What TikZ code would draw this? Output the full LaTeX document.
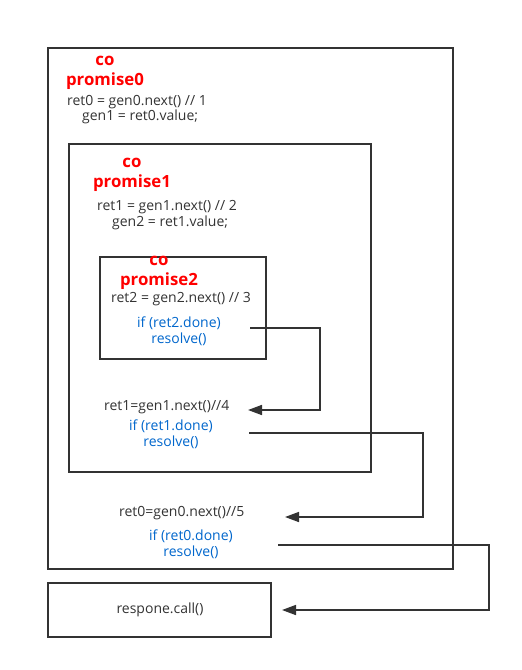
\documentclass[tikz,border=0pt]{standalone}
\usepackage{fontspec}
\setmainfont{Open Sans}
\usetikzlibrary{arrows.meta}
\definecolor{ln}{HTML}{333333}
\definecolor{bl}{HTML}{0066CC}
\tikzset{
  box/.style={draw=ln, line width=1.6pt},
  code/.style={inner sep=0pt, text=ln, font=\fontsize{14}{16}\selectfont},
  blue/.style={inner sep=0pt, text=bl, font=\fontsize{14}{16.5}\selectfont, align=center},
  title/.style={inner sep=0pt, text=red, font=\bfseries\fontsize{16.8}{19.5}\selectfont, align=center},
  conn/.style={draw=ln, line width=1.6pt, -{Triangle[length=14pt,width=10pt]}},
}
\begin{document}
\begin{tikzpicture}[x=1pt,y=-1pt]
\useasboundingbox (0,0) rectangle (522,670);
% boxes
\draw[box] (48,48) rectangle (453,569);
\draw[box] (69,144) rectangle (371,472);
\draw[box] (100,257) rectangle (266,359);
\draw[box] (48,583) rectangle (271,637);
% outer box texts
\node[title] (t0) at (105,73) {co\\promise0};
\node[code, anchor=west] (a0) at (67,102) {ret0 = gen0.next() // 1};
\node[code, anchor=west] (b0) at (82,117) {gen1 = ret0.value;};
% box1 texts
\node[title] (t1) at (132,175) {co\\promise1};
\node[code, anchor=west] (a1) at (97,207) {ret1 = gen1.next() // 2};
\node[code, anchor=west] (b1) at (112,223) {gen2 = ret1.value;};
% box2 texts
\node[title] (t2) at (159,273) {co\\promise2};
\node[code, anchor=west] (a2) at (111,299) {ret2 = gen2.next() // 3};
\node[blue] (if2) at (179,331) {if (ret2.done)\\resolve()};
% after box2
\node[code, anchor=west] (r4) at (104,407) {ret1=gen1.next()//4};
\node[blue] (if1) at (171,434) {if (ret1.done)\\resolve()};
% after box1
\node[code, anchor=west] (r5) at (119,513) {ret0=gen0.next()//5};
\node[blue] (if0) at (191,544) {if (ret0.done)\\resolve()};
% respone
\node[code] (rc) at (160,610) {respone.call()};
% connector endpoints
\coordinate (s2) at (250,328);
\coordinate (e2) at (248,410);
\coordinate (s1) at (249,433);
\coordinate (e1) at (285,517);
\coordinate (s0) at (278,545);
\coordinate (e0) at (282,610);
\draw[conn] (s2) -- (320,328) |- (e2);
\draw[conn] (s1) -- (423,433) |- (e1);
\draw[conn] (s0) -- (489,545) |- (e0);
\end{tikzpicture}
\end{document}
